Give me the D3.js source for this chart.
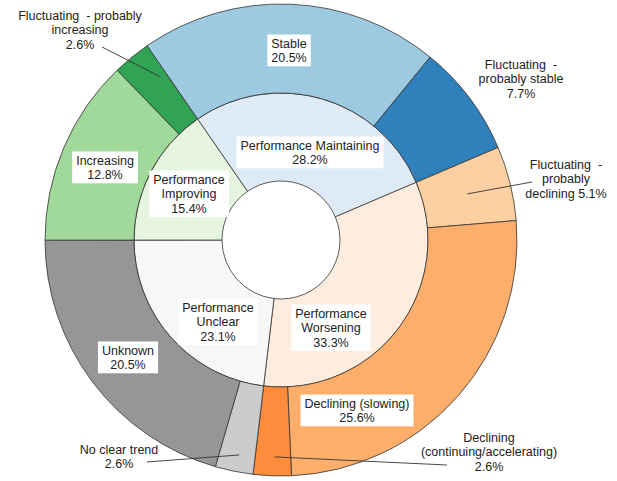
<!DOCTYPE html>
<html>
<head>
<meta charset="utf-8">
<script src="https://d3js.org/d3.v7.min.js"></script>
<style>
  body { margin: 0; background: #fff; }
  text { font-family: "Liberation Sans", Arial, sans-serif; font-size: 12.5px; fill: #222; white-space: pre; }
</style>
</head>
<body>
<div id="chart"></div>
<script>
// Inner ring: performance groups (% of 39 indicators)
var groups = ["Performance Maintaining", "Performance Worsening", "Performance Unclear", "Performance Improving"];
var groupValues = [28.2, 33.3, 23.1, 15.4];

// Outer ring: trend categories, in the same order round the circle
var trends = ["Stable", "Fluctuating - probably stable", "Fluctuating - probably declining",
              "Declining (slowing)", "Declining (continuing/accelerating)", "No clear trend",
              "Unknown", "Increasing", "Fluctuating - probably increasing"];
var trendValues = [20.5, 7.7, 5.1, 25.6, 2.6, 2.6, 20.5, 12.8, 2.6];

var groupColors = ["#deebf7", "#feeddf", "#f7f7f7", "#e5f5e0"];
var trendColors = ["#9ecae1", "#2f80bb", "#fdd0a2", "#fdae6b", "#fd8d3c", "#cccccc", "#969696", "#a1d99b", "#31a354"];

// label placement (pixel position of first text line centre, offsets in layout only)
var labelLayout = {
  "Performance Maintaining": {x: 310, y: 145, lines: ["Performance Maintaining", "%v"], box: true},
  "Performance Worsening": {x: 331, y: 313, lines: ["Performance", "Worsening", "%v"], box: true},
  "Performance Unclear": {x: 218, y: 307, lines: ["Performance", "Unclear", "%v"], box: true},
  "Performance Improving": {x: 189, y: 179, lines: ["Performance", "Improving", "%v"], box: true},
  "Stable": {x: 289, y: 43, lines: ["Stable", "%v"], box: true},
  "Fluctuating - probably stable": {x: 521, y: 64, lines: ["Fluctuating  -", "probably stable", "%v"]},
  "Fluctuating - probably declining": {x: 566, y: 164, lines: ["Fluctuating  -", "probably", "declining %v"],
      tip: [0.5, 192], from: [532, 182]},
  "Declining (slowing)": {x: 357, y: 403, lines: ["Declining (slowing)", "%v"], box: true},
  "Declining (continuing/accelerating)": {x: 489, y: 437, lines: ["Declining", "(continuing/accelerating)", "%v"],
      tip: [0.45, 217], from: [447, 465]},
  "No clear trend": {x: 119, y: 449, lines: ["No clear trend", "%v"], tip: [0.45, 219], from: [147, 462]},
  "Unknown": {x: 128, y: 350, lines: ["Unknown", "%v"], box: true},
  "Increasing": {x: 105, y: 160, lines: ["Increasing", "%v"], box: true},
  "Fluctuating - probably increasing": {x: 80, y: 15, lines: ["Fluctuating  - probably", "increasing", "%v"],
      tip: [0.8, 203], from: [102, 47]}
};

var width = 617, height = 481;
var cx = 281, cy = 240;
var r0 = 59, r1 = 147, r2 = 236;
var start = -34.6 * Math.PI / 180;

var svg = d3.select("#chart").append("svg")
    .attr("width", width)
    .attr("height", height);

svg.append("rect").attr("width", width).attr("height", height).attr("fill", "#fff");

var g = svg.append("g").attr("transform", "translate(" + cx + "," + cy + ")");

var pie = d3.pie().sort(null).value(function(d) { return d; })
    .startAngle(start).endAngle(start + 2 * Math.PI);

var innerArcs = pie(groupValues);
var outerArcs = pie(trendValues);

var innerArc = d3.arc().innerRadius(r0).outerRadius(r1);
var outerArc = d3.arc().innerRadius(r1).outerRadius(r2);

g.selectAll(".inner")
    .data(innerArcs)
  .enter().append("path")
    .attr("class", "inner")
    .attr("d", innerArc)
    .attr("fill", function(d, i) { return groupColors[i]; })
    .attr("stroke", "#333")
    .attr("stroke-width", 0.8);

g.selectAll(".outer")
    .data(outerArcs)
  .enter().append("path")
    .attr("class", "outer")
    .attr("d", outerArc)
    .attr("fill", function(d, i) { return trendColors[i]; })
    .attr("stroke", "#333")
    .attr("stroke-width", 0.8);

var fmt = d3.format(".1f");
var labels = svg.append("g");
var leaders = svg.append("g");

function addLabel(name, value, arcDatum) {
  var L = labelLayout[name];
  var pct = fmt(value) + "%";
  var lg = labels.append("g");
  var t = lg.append("text")
      .attr("text-anchor", "middle")
      .attr("xml:space", "preserve");
  L.lines.forEach(function(line, i) {
    t.append("tspan")
      .attr("x", L.x)
      .attr("y", L.y + 4.5 + i * 14.8)
      .text(line.replace("%v", pct));
  });
  if (L.box) {
    var bb = t.node().getBBox();
    lg.insert("rect", "text")
      .attr("x", bb.x - 4)
      .attr("y", bb.y - 2)
      .attr("width", bb.width + 8)
      .attr("height", bb.height + 3)
      .attr("fill", "#fff");
  }
  if (L.tip) {
    var a = arcDatum.startAngle + (arcDatum.endAngle - arcDatum.startAngle) * L.tip[0];
    var tx = cx + Math.sin(a) * L.tip[1];
    var ty = cy - Math.cos(a) * L.tip[1];
    leaders.append("line")
      .attr("x1", L.from[0]).attr("y1", L.from[1])
      .attr("x2", tx).attr("y2", ty)
      .attr("stroke", "#333")
      .attr("stroke-width", 0.9);
  }
}

groups.forEach(function(n, i) { addLabel(n, groupValues[i], innerArcs[i]); });
trends.forEach(function(n, i) { addLabel(n, trendValues[i], outerArcs[i]); });
</script>
</body>
</html>
